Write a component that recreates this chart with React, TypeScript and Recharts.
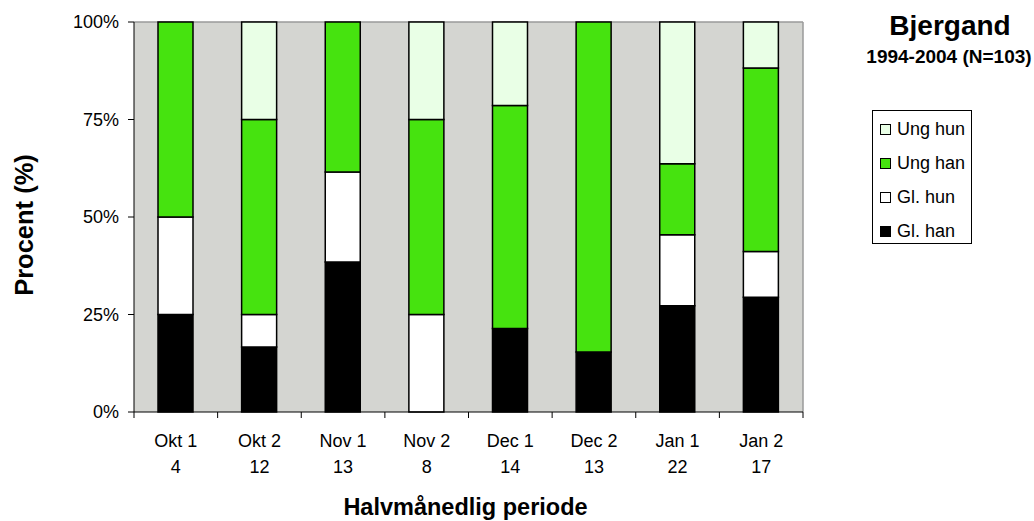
import React from 'react';
import { BarChart, Bar, XAxis, YAxis, CartesianGrid, Legend } from 'recharts';

const periods = ['Okt 1', 'Okt 2', 'Nov 1', 'Nov 2', 'Dec 1', 'Dec 2', 'Jan 1', 'Jan 2'];
const counts = [4, 12, 13, 8, 14, 13, 22, 17];

// individuals per group, stacked to 100%
const glHan = [1, 2, 5, 0, 3, 2, 6, 5];
const glHun = [1, 1, 3, 2, 0, 0, 4, 2];
const ungHan = [2, 6, 5, 4, 8, 11, 4, 8];
const ungHun = [0, 3, 0, 2, 3, 0, 8, 2];

const yTicks = [0, 0.25, 0.5, 0.75, 1];

const colors = {
  glHan: '#000000',
  glHun: '#ffffff',
  ungHan: '#46e30f',
  ungHun: '#e9ffe6',
  plot: '#d4d5d1',
  frame: '#9a9a9a',
};

const data = periods.map((p, i) => ({
  period: p,
  n: counts[i],
  glHan: glHan[i],
  glHun: glHun[i],
  ungHan: ungHan[i],
  ungHun: ungHun[i],
}));

const font = '"Liberation Sans", Arial, sans-serif';

const XTick = (props: any) => {
  const { x, y, payload, index, visibleTicksCount } = props;
  const off = payload.offset ?? 41.8;
  const last = index === visibleTicksCount - 1;
  return (
    <g>
      <line x1={x - off} x2={x - off} y1={y} y2={y + 6} stroke="#000" />
      {last && <line x1={x + off} x2={x + off} y1={y} y2={y + 6} stroke="#000" />}
      <text x={x} y={y + 35} textAnchor="middle" fontSize={18} fill="#000" fontFamily={font}>
        {payload.value}
      </text>
      <text x={x} y={y + 61} textAnchor="middle" fontSize={18} fill="#000" fontFamily={font}>
        {counts[index]}
      </text>
    </g>
  );
};

const LegendBox = (props: any) => {
  const items = [...(props.payload || [])].reverse();
  return (
    <div
      style={{
        border: '1px solid #000',
        background: '#fff',
        width: 100,
        height: 134,
        boxSizing: 'border-box',
        paddingTop: 1,
        fontFamily: font,
        fontSize: 18,
      }}
    >
      {items.map((it: any) => (
        <div key={it.value} style={{ display: 'flex', alignItems: 'center', height: 34, marginLeft: 7 }}>
          <span
            style={{
              display: 'inline-block',
              width: 9,
              height: 9,
              background: it.color,
              border: '1px solid #000',
              marginRight: 6,
            }}
          />
          <span>{it.value}</span>
        </div>
      ))}
    </div>
  );
};

export default function App() {
  return (
    <div style={{ position: 'absolute', left: 0, top: 0, width: 1034, height: 521, background: '#fff', fontFamily: font }}>
      <div style={{ position: 'absolute', left: 850, width: 200, top: 10, textAlign: 'center', fontWeight: 'bold', fontSize: 28, lineHeight: '32px' }}>
        Bjergand
      </div>
      <div style={{ position: 'absolute', left: 849, width: 200, top: 46, textAlign: 'center', fontWeight: 'bold', fontSize: 19, lineHeight: '22px' }}>
        1994-2004 (N=103)
      </div>
      <BarChart
        width={1034}
        height={521}
        data={data}
        stackOffset="expand"
        margin={{ top: 22, right: 231, bottom: 0, left: 0 }}
        barSize={35}
      >
        <CartesianGrid
          fill={colors.plot}
          stroke={colors.frame}
          strokeWidth={1.5}
          horizontalCoordinatesGenerator={({ offset }: any) => [offset.top]}
          verticalCoordinatesGenerator={({ offset }: any) => [offset.left + offset.width]}
        />
        <XAxis
          dataKey="period"
          height={109}
          stroke="#000"
          tickLine={false}
          tickSize={0}
          tickMargin={0}
          interval={0}
          tick={<XTick />}
          label={({ viewBox }: any) => (
            <text
              x={viewBox.x + viewBox.width / 2 - 3}
              y={viewBox.y + 103}
              textAnchor="middle"
              fontSize={23.5}
              fontWeight="bold"
              fontFamily={font}
              fill="#000"
            >
              Halvmånedlig periode
            </text>
          )}
        />
        <YAxis
          width={134}
          ticks={yTicks}
          domain={[0, 1]}
          stroke="#000"
          tickSize={6}
          tickMargin={9}
          tick={{ fontSize: 18, fill: '#000', fontFamily: font }}
          tickFormatter={(v: number) => `${Math.round(v * 100)}%`}
          label={({ viewBox }: any) => {
            const cx = 24;
            const cy = viewBox.y + viewBox.height / 2 + 8;
            return (
              <text
                x={cx}
                y={cy}
                transform={`rotate(-90 ${cx} ${cy})`}
                textAnchor="middle"
                dominantBaseline="central"
                fontSize={25.5}
                fontWeight="bold"
                fontFamily={font}
                fill="#000"
              >
                Procent (%)
              </text>
            );
          }}
        />
        <Legend
          layout="vertical"
          align="center"
          verticalAlign="middle"
          content={<LegendBox />}
          wrapperStyle={{ left: 872, top: 110, width: 102, height: 136 }}
        />
        <Bar dataKey="glHan" name="Gl. han" stackId="a" fill={colors.glHan} stroke="#000" strokeWidth={1.5} isAnimationActive={false} />
        <Bar dataKey="glHun" name="Gl. hun" stackId="a" fill={colors.glHun} stroke="#000" strokeWidth={1.5} isAnimationActive={false} />
        <Bar dataKey="ungHan" name="Ung han" stackId="a" fill={colors.ungHan} stroke="#000" strokeWidth={1.5} isAnimationActive={false} />
        <Bar dataKey="ungHun" name="Ung hun" stackId="a" fill={colors.ungHun} stroke="#000" strokeWidth={1.5} isAnimationActive={false} />
      </BarChart>
    </div>
  );
}
